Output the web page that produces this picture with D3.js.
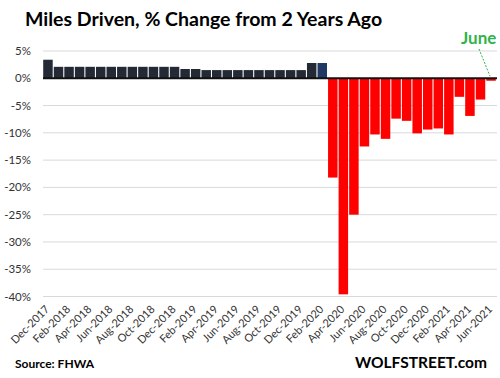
<!DOCTYPE html>
<html>
<head>
<meta charset="utf-8">
<script src="https://cdn.jsdelivr.net/npm/d3@7/dist/d3.min.js"></script>
<style>
  body { margin: 0; background: #fff; }
  svg { display: block; font-family: Lato, "Open Sans", sans-serif; }
</style>
</head>
<body>
<svg id="chart" width="500" height="378"></svg>
<script>
// months Dec-2017 .. Jun-2021
const months = [
  "Dec-2017", "Jan-2018", "Feb-2018", "Mar-2018", "Apr-2018", "May-2018", "Jun-2018",
  "Jul-2018", "Aug-2018", "Sep-2018", "Oct-2018", "Nov-2018", "Dec-2018",
  "Jan-2019", "Feb-2019", "Mar-2019", "Apr-2019", "May-2019", "Jun-2019",
  "Jul-2019", "Aug-2019", "Sep-2019", "Oct-2019", "Nov-2019", "Dec-2019",
  "Jan-2020", "Feb-2020", "Mar-2020", "Apr-2020", "May-2020", "Jun-2020",
  "Jul-2020", "Aug-2020", "Sep-2020", "Oct-2020", "Nov-2020", "Dec-2020",
  "Jan-2021", "Feb-2021", "Mar-2021", "Apr-2021", "May-2021", "Jun-2021"
]

// % change from 2 years ago
const pctChange = [
  3.4, 2.1, 2.1, 2.1, 2.1, 2.1, 2.1,
  2.1, 2.1, 2.1, 2.1, 2.1, 2.1,
  1.7, 1.7, 1.5, 1.5, 1.5, 1.5,
  1.5, 1.5, 1.5, 1.5, 1.5, 1.5,
  2.8, 2.8, -18.2, -39.6, -25.0, -12.5,
  -10.3, -11.1, -7.4, -7.8, -10.1, -9.4,
  -9.2, -10.3, -3.4, -6.9, -3.9, -0.45
]

const yTicks = [5, 0, -5, -10, -15, -20, -25, -30, -35, -40]

const svg = d3.select("#chart")

const x = d3.scaleBand()
    .domain(months)
    .range([43, 496])
    .paddingInner(0.1)
    .paddingOuter(0.02)

const y = d3.scaleLinear()
    .domain([-40, 5])
    .range([296.5, 51])

// gridlines
svg.append("g")
    .selectAll("line")
    .data(yTicks.filter(d => d !== 0))
    .enter().append("line")
    .attr("x1", 43)
    .attr("x2", 497)
    .attr("y1", d => y(d))
    .attr("y2", d => y(d))
    .attr("stroke", "#d9d9d9")
    .attr("stroke-width", 1)

// y labels
svg.append("g")
    .selectAll("text")
    .data(yTicks)
    .enter().append("text")
    .attr("x", 31)
    .attr("y", d => y(d) + 4)
    .attr("text-anchor", "end")
    .attr("font-size", 11.5)
    .attr("fill", "#333")
    .text(d => d + "%")

// bars
svg.append("g")
    .selectAll("rect")
    .data(months)
    .enter().append("rect")
    .attr("x", d => x(d))
    .attr("width", x.bandwidth())
    .attr("y", (d, i) => y(Math.max(0, pctChange[i])))
    .attr("height", (d, i) => Math.abs(y(pctChange[i]) - y(0)))
    .attr("fill", (d, i) => pctChange[i] < 0 ? "#ff0000" : (d === "Feb-2020" ? "#1f3864" : "#232a36"))

// zero line
svg.append("line")
    .attr("x1", 43)
    .attr("x2", 497)
    .attr("y1", y(0))
    .attr("y2", y(0))
    .attr("stroke", "#111")
    .attr("stroke-width", 2)

// x labels, every other month
svg.append("g")
    .selectAll("text")
    .data(months.filter((d, i) => i % 2 === 0))
    .enter().append("text")
    .attr("transform", d => "translate(" + (x(d) + x.bandwidth() / 2 + 2) + ",310) rotate(-45)")
    .attr("text-anchor", "end")
    .attr("font-size", 11)
    .attr("fill", "#333")
    .text(d => d)

// title
svg.append("text")
    .attr("x", 25)
    .attr("y", 26)
    .attr("font-size", 19.5)
    .attr("font-weight", "bold")
    .attr("fill", "#000")
    .text("Miles Driven, % Change from 2 Years Ago")

// June callout
const last = months[months.length - 1]
svg.append("text")
    .attr("x", 461)
    .attr("y", 44)
    .attr("font-size", 17)
    .attr("font-weight", "bold")
    .attr("fill", "#2fb34a")
    .text("June")
svg.append("line")
    .attr("x1", 479)
    .attr("y1", 49)
    .attr("x2", x(last) + x.bandwidth() / 2 - 1)
    .attr("y2", y(0) - 2)
    .attr("stroke", "#2fb34a")
    .attr("stroke-width", 1)
    .attr("stroke-dasharray", "2,1.5")

// footer
svg.append("text")
    .attr("x", 15)
    .attr("y", 368)
    .attr("font-size", 12)
    .attr("font-weight", "bold")
    .attr("fill", "#000")
    .text("Source: FHWA")

svg.append("text")
    .attr("x", 487)
    .attr("y", 368)
    .attr("text-anchor", "end")
    .attr("font-size", 15.5)
    .attr("font-weight", "bold")
    .attr("fill", "#000")
    .text("WOLFSTREET.com")
</script>
</body>
</html>
